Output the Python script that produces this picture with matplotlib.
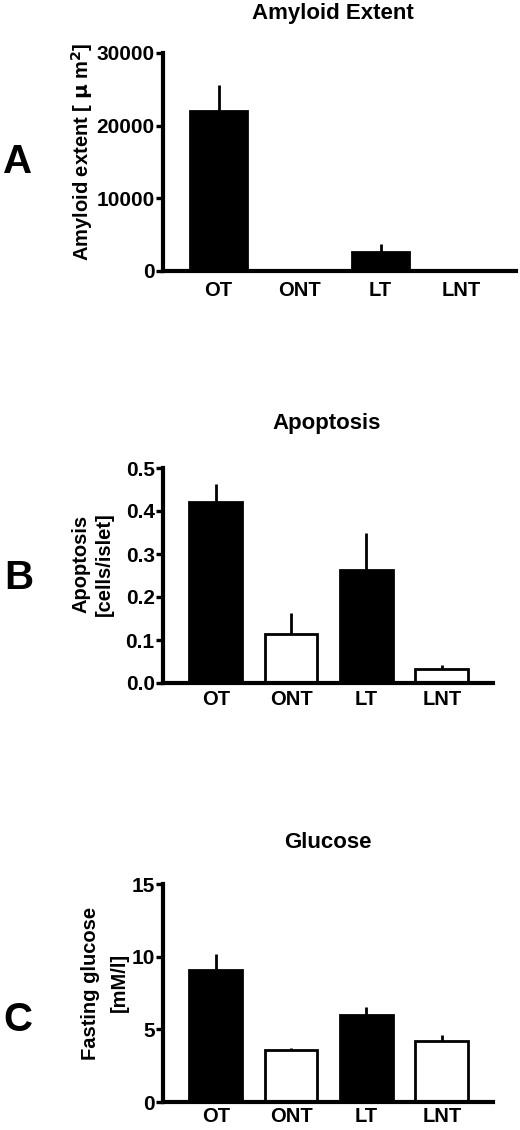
import matplotlib
matplotlib.use("Agg")
import matplotlib.pyplot as plt
import numpy as np

plt.rcParams['font.family'] = ['Liberation Sans', 'DejaVu Sans']
plt.rcParams['font.weight'] = 'bold'

categories = ["OT", "ONT", "LT", "LNT"]
bar_fill = ["black", "white", "black", "white"]

amyloid_mean = [22000, 0, 2650, 0]
amyloid_err = [3600, 0, 1050, 0]
amyloid_ticks = [0, 10000, 20000, 30000]

apoptosis_mean = [0.42, 0.114, 0.263, 0.033]
apoptosis_err = [0.043, 0.049, 0.086, 0.009]
apoptosis_ticks = [0.0, 0.1, 0.2, 0.3, 0.4, 0.5]

glucose_mean = [9.1, 3.55, 6.0, 4.2]
glucose_err = [1.1, 0.2, 0.55, 0.4]
glucose_ticks = [0, 5, 10, 15]

W, H = 520, 1130
fig = plt.figure(figsize=(W / 100, H / 100), dpi=100)


def px(x, y):
    return x / W, 1 - y / H


def panel(rect_px, means, errs, ticks, ylim, xlim, fmt, xpad):
    l, t, r, b = rect_px
    ax = fig.add_axes([l / W, 1 - b / H, (r - l) / W, (b - t) / H])
    x = np.arange(len(categories))
    ax.bar(x, means, width=0.70, color=bar_fill, edgecolor="black",
           linewidth=2.0, zorder=2)
    ax.errorbar(x, means, yerr=[np.zeros(len(errs)), errs], fmt="none",
                ecolor="black", elinewidth=2.0, capsize=0, zorder=1)
    ax.set_xlim(*xlim)
    ax.set_ylim(*ylim)
    ax.set_yticks(ticks)
    ax.set_yticklabels([fmt(v) for v in ticks], fontsize=15, fontweight="bold")
    ax.set_xticks(x)
    ax.set_xticklabels(categories, fontsize=14.5, fontweight="bold")
    ax.tick_params(axis="x", length=0, pad=xpad)
    ax.tick_params(axis="y", length=5, width=2.4, pad=1, direction="out")
    for s in ["top", "right"]:
        ax.spines[s].set_visible(False)
    for s in ["left", "bottom"]:
        ax.spines[s].set_linewidth(3.0)
        ax.spines[s].set_capstyle("projecting")
    ax.patch.set_alpha(0)
    return ax


# Panel A
panel((163, 53, 516, 271), amyloid_mean, amyloid_err, amyloid_ticks,
      (0, 30000), (-0.685, 3.67), lambda v: f"{v:d}", 7)
fig.text(*px(333, 13), "Amyloid Extent", ha="center", va="center",
         fontsize=16, fontweight="bold")
fig.text(*px(82, 152), r"Amyloid extent [ $\mathbf{\mu}$ m$^\mathbf{2}$]", rotation=90,
         ha="center", va="center", fontsize=14.5, fontweight="bold")
fig.text(*px(18, 162), "A", ha="center", va="center", fontsize=29,
         fontweight="bold")

# Panel B
panel((163, 468, 493, 683), apoptosis_mean, apoptosis_err, apoptosis_ticks,
      (0, 0.5), (-0.70, 3.68), lambda v: f"{v:.1f}", 5)
fig.text(*px(327, 424), "Apoptosis", ha="center", va="center",
         fontsize=16, fontweight="bold")
fig.text(*px(81, 564), "Apoptosis", rotation=90, ha="center", va="center",
         fontsize=14.5, fontweight="bold")
fig.text(*px(104, 564), "[cells/islet]", rotation=90, ha="center",
         va="center", fontsize=14.5, fontweight="bold")
fig.text(*px(19, 578), "B", ha="center", va="center", fontsize=29,
         fontweight="bold")

# Panel C
panel((163, 884, 493, 1102), glucose_mean, glucose_err, glucose_ticks,
      (0, 15), (-0.70, 3.68), lambda v: f"{v:d}", 3.5)
fig.text(*px(328, 842), "Glucose", ha="center", va="center",
         fontsize=16, fontweight="bold")
fig.text(*px(91, 983), "Fasting glucose", rotation=90, ha="center",
         va="center", fontsize=14.5, fontweight="bold")
fig.text(*px(119, 982), "[mM/l]", rotation=90, ha="center", va="center",
         fontsize=14.5, fontweight="bold")
fig.text(*px(18, 1020), "C", ha="center", va="center", fontsize=29,
         fontweight="bold")

fig.savefig("out.png", dpi=100)
